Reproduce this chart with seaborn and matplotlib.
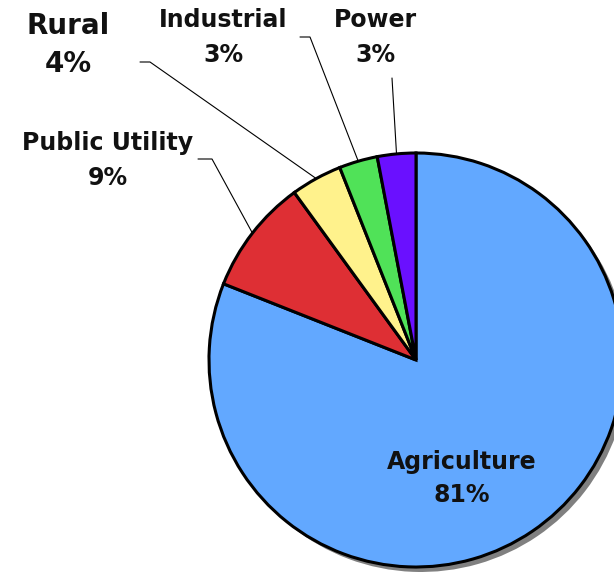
import numpy as np
import matplotlib
matplotlib.use("Agg")
import matplotlib.pyplot as plt
import seaborn as sns

sns.set_theme(style="white")
plt.rcParams['font.family'] = ['DejaVu Sans']

categories = ["Agriculture", "Public Utility", "Rural", "Industrial", "Power"]
values = [81, 9, 4, 3, 3]
colors = ["#62A8FF", "#DE2F34", "#FFF28C", "#50E258", "#6A10FF"]

W, H = 614, 572
fig = plt.figure(figsize=(W / 100, H / 100), dpi=100)
ax = fig.add_axes([0, 0, 1, 1])

cx, cy, R = 416, H - 360, 207

# shadow
ax.pie(values, colors=["#808080"] * len(values), startangle=90, counterclock=False,
       center=(cx + 5, cy - 5), radius=R, wedgeprops=dict(linewidth=0))
wedges, _ = ax.pie(values, colors=colors, startangle=90, counterclock=False,
                   center=(cx, cy), radius=R,
                   wedgeprops=dict(edgecolor="black", linewidth=2.2))

ax.set_xlim(0, W)
ax.set_ylim(0, H)
ax.set_aspect("equal")
ax.axis("off")

fs = 17
fw = "bold"
# Agriculture label inside
ax.text(462, H - 462, "Agriculture", ha="center", va="center", fontsize=fs, fontweight=fw, color="#111111")
ax.text(462, H - 495, "81%", ha="center", va="center", fontsize=fs, fontweight=fw, color="#111111")

labels = {
    "Public Utility": dict(xy=(108, 143), pct=(108, 178), path=[(198, 159), (212, 159)], size=fs),
    "Rural": dict(xy=(68, 26), pct=(68, 64), path=[(140, 62), (150, 62)], size=20),
    "Industrial": dict(xy=(223, 20), pct=(223, 55), path=[(300, 37), (310, 37)], size=fs),
    "Power": dict(xy=(375, 20), pct=(375, 55), path=[(392, 78)], size=fs),
}

for w, name, val in zip(wedges, categories, values):
    if name not in labels:
        continue
    info = labels[name]
    ax.text(info["xy"][0], H - info["xy"][1], name, ha="center", va="center",
            fontsize=info["size"], fontweight=fw, color="#111111")
    ax.text(info["pct"][0], H - info["pct"][1], f"{val}%", ha="center", va="center",
            fontsize=info["size"], fontweight=fw, color="#111111")
    mid = np.deg2rad((w.theta1 + w.theta2) / 2)
    ex, ey = cx + R * np.cos(mid), cy + R * np.sin(mid)
    xs = [p[0] for p in info["path"]] + [ex]
    ys = [H - p[1] for p in info["path"]] + [ey]
    ax.plot(xs, ys, color="black", linewidth=0.8, zorder=0.5)

fig.savefig("out.png", dpi=100)
